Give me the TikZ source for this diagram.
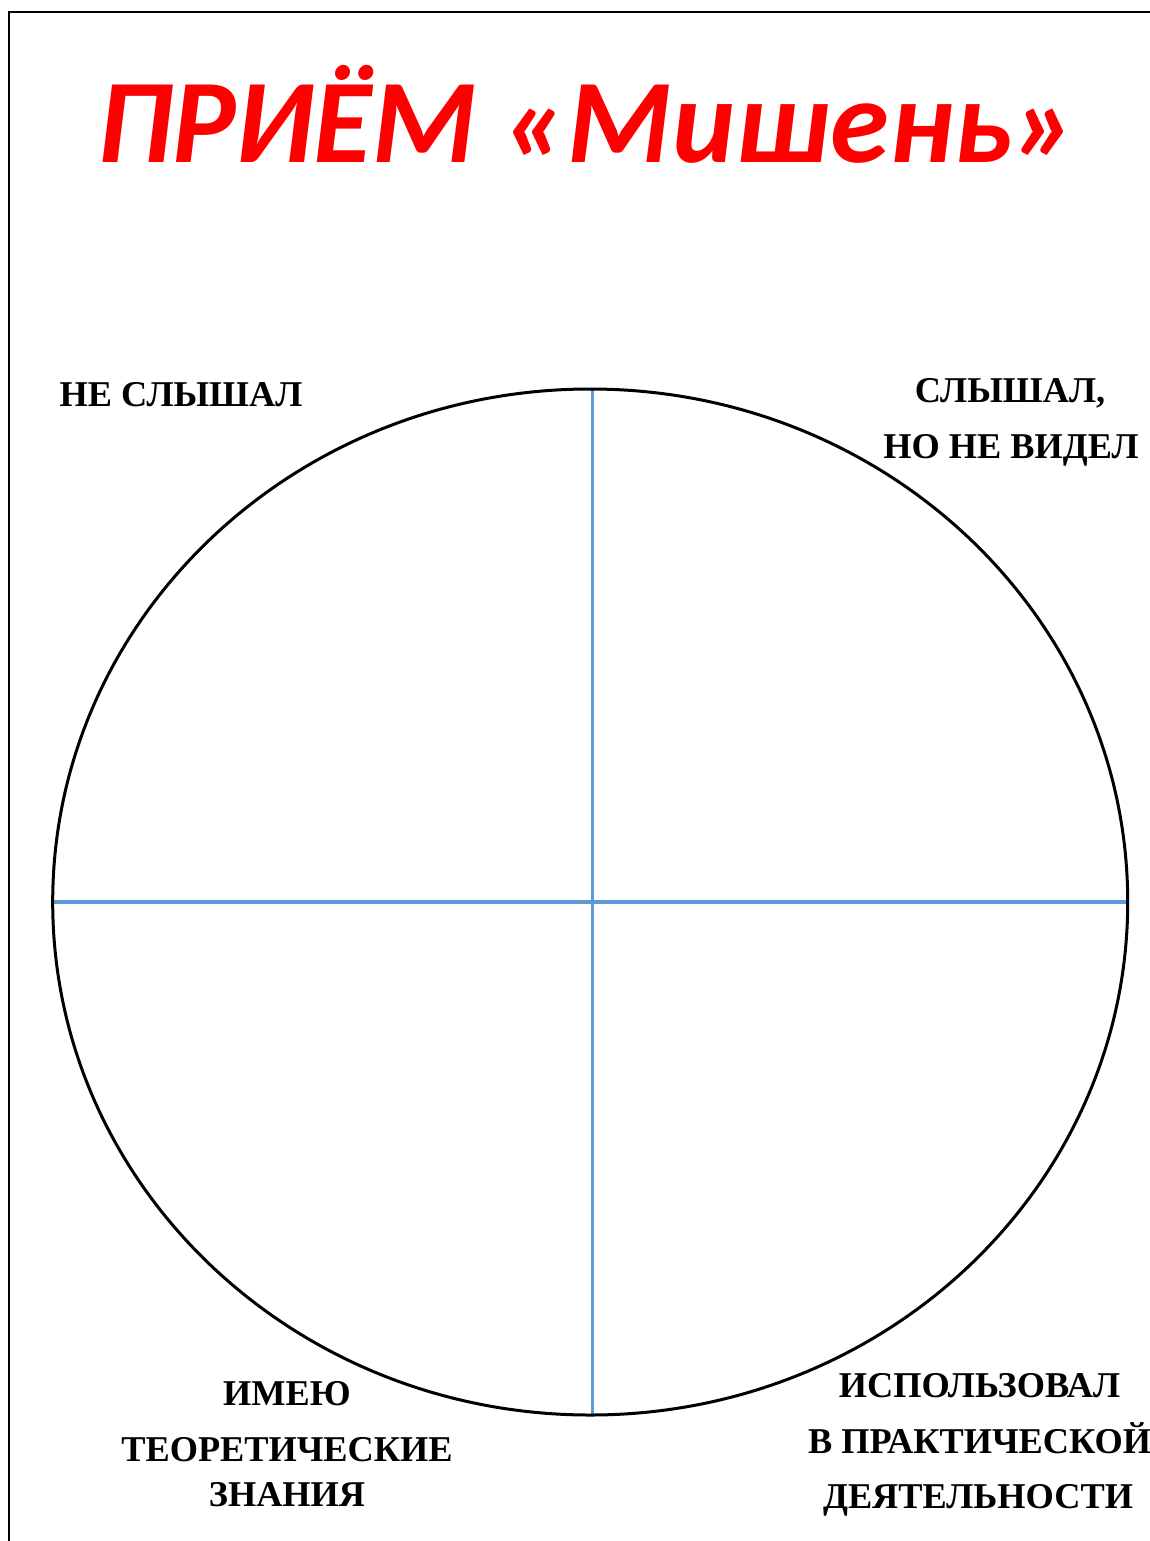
\documentclass[tikz,border=0pt]{standalone}
\usepackage{fontspec}
\usetikzlibrary{shapes.geometric}
\setmainfont{Liberation Serif}
\newfontfamily\titlefont{Carlito}
\definecolor{titlered}{HTML}{FF0000}
\definecolor{axisblue}{HTML}{5B9BD5}
\begin{document}
\begin{tikzpicture}[x=1pt,y=-1pt,
  lbl/.style={anchor=base,inner sep=0pt,font=\fontsize{36.3}{42}\selectfont\bfseries},
  frameline/.style={line width=2pt,black},
  axis/.style={line width=3.5pt,axisblue},
  target/.style={line width=3pt,black}]
\useasboundingbox (0,0) rectangle (1150,1541);
\fill[white] (0,0) rectangle (1150,1541);
% frame
\coordinate (fr) at (1152,12);
\coordinate (fc) at (9,12);
\coordinate (fb) at (9,1543);
\draw[frameline] (fr) -- (fc) -- (fb);
% title
\node[anchor=base,inner sep=0pt,text=titlered,font=\titlefont\fontsize{119.5}{130}\selectfont\bfseries\itshape] (title) at (587,163) {ПРИЁМ «Мишень»};
% target
\node[ellipse,minimum width=1075pt,minimum height=1026pt,inner sep=0pt,outer sep=0pt] (circ) at (590.2,902) {};
\coordinate (top) at (592.7,390);
\coordinate (bot) at (592.7,1415);
\draw[axis] (top) -- (bot);
\draw[axis] (circ.west) -- (circ.east);
\draw[target] (circ.center) ellipse [x radius=537.5, y radius=513];
% labels
\node[lbl] (l1) at (181,406) {НЕ СЛЫШАЛ};
\node[lbl] (l2a) at (1010,402) {СЛЫШАЛ,};
\node[lbl] (l2b) at (1011,458) {НО НЕ ВИДЕЛ};
\node[lbl] (l3a) at (287,1405) {ИМЕЮ};
\node[lbl] (l3b) at (287,1461) {ТЕОРЕТИЧЕСКИЕ};
\node[lbl] (l3c) at (287,1506) {ЗНАНИЯ};
\node[lbl] (l4a) at (979.5,1397) {ИСПОЛЬЗОВАЛ};
\node[lbl] (l4b) at (979.5,1453) {В ПРАКТИЧЕСКОЙ};
\node[lbl] (l4c) at (978,1508) {ДЕЯТЕЛЬНОСТИ};
\end{tikzpicture}
\end{document}
